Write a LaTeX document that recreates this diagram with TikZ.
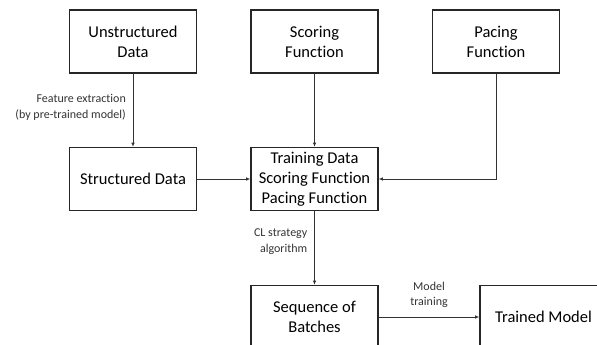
\documentclass[tikz,border=0pt]{standalone}
\usepackage{fontspec}
\setmainfont{Carlito}[Ligatures=NoCommon]
\usetikzlibrary{calc}
\usetikzlibrary{arrows.meta}

\begin{document}
\begin{tikzpicture}[
		x=1pt, y=-1pt,
		>={Latex[length=4pt,width=3.5pt]},
		block/.style={draw=black!85, line width=1.6pt, minimum width=127pt, minimum height=63pt, align=center, font=\fontsize{16.5}{20}\selectfont, inner sep=0pt},
		flow/.style={->, draw=black!80, line width=0.7pt},
		note/.style={font=\fontsize{12}{15.5}\selectfont, text=black!80, inner sep=0pt},
	]
	\clip (0,0) rectangle (597,345);
	\fill[white] (0,0) rectangle (597,345);
	% top row
	\node[block] (unstructured) at (133,41.5) {Unstructured\\Data};
	\node[block] (scoring) at (314.5,41.5) {Scoring\\Function};
	\node[block] (pacing) at (496,41.5) {Pacing\\Function};
	% middle row
	\node[block] (structured) at (133,179) {Structured Data};
	\node[block] (training) at (314.5,179) {Training Data\\Scoring Function\\Pacing Function};
	% bottom row
	\node[block] (batches) at (314.5,317) {Sequence of\\Batches};
	\node[block] (model) at (543.5,317) {Trained Model};
	% connectors
	\draw[flow] (unstructured) -- (structured);
	\draw[flow] (scoring) -- (training);
	\draw[flow] (structured) -- (training);
	\draw[flow] (pacing.south) |- (training.east);
	\draw[flow] (training) -- (batches);
	\draw[flow] (batches) -- (model);
	% labels
	\node[note, anchor=east, align=right] (extract) at ($(unstructured.south)!0.5!(structured.north)+(-7,-3)$) {Feature extraction\\(by pre-trained model)};
	\node[note, anchor=east, align=right] (strategy) at ($(training.south)!0.4!(batches.north)+(-7,1)$) {CL strategy\\algorithm};
	\node[note, anchor=south, align=center] (fit) at ($(batches.east)!0.5!(model.west)+(0,-9)$) {Model\\training};
\end{tikzpicture}
\end{document}
